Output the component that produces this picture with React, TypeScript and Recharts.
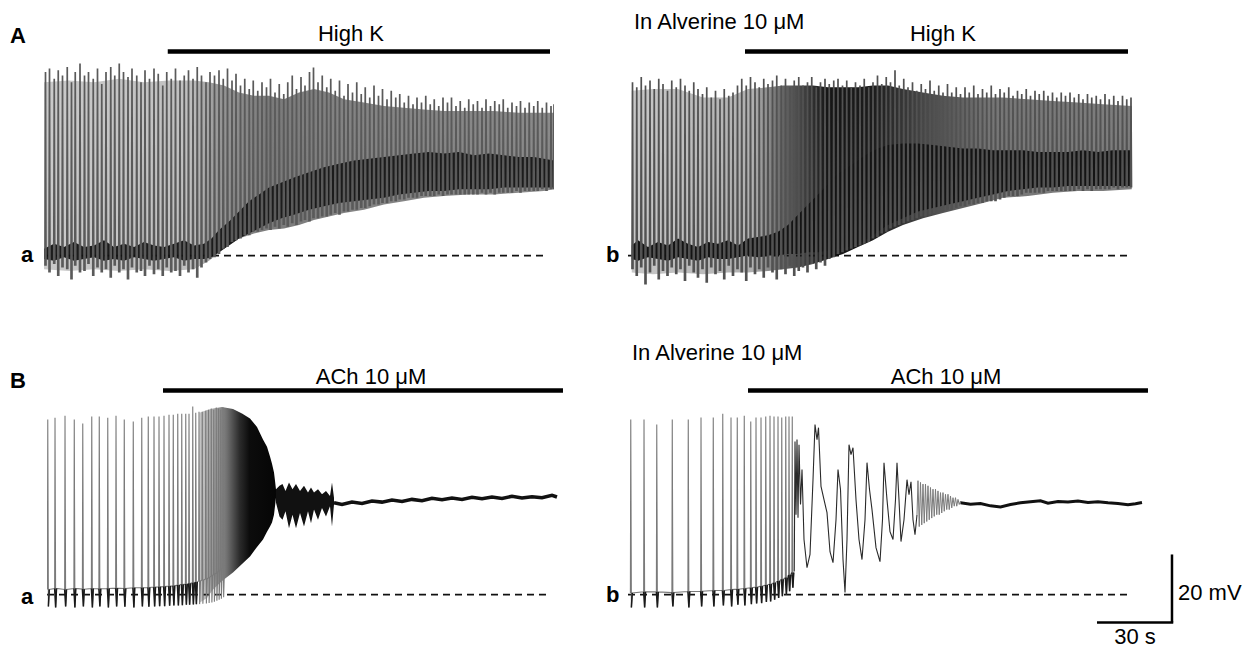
import React from "react";
import { Area, ComposedChart, Line, ReferenceLine, XAxis, YAxis } from "recharts";

// calibration from the scale bar: 30 s = 75 px, 20 mV = 68 px
const PX_PER_S = 2.5;
const PX_PER_MV = 3.4;

// voltages are mV relative to the resting level (dashed line), time in s

// A, control: [t, undershoot, peak]
const aLeftSpikes: [number, number, number][] = [
  [0.4, -3, 54], [2.0, -5, 55], [3.9, -2.5, 52], [5.5, -6, 54.5], [7.2, -3.5, 53], [9.1, -4, 55.5],
  [10.8, -7, 51], [12.3, -3, 54], [14.2, -5, 56.5], [16.0, -4.5, 53], [17.6, -2.5, 54], [19.5, -6, 52],
  [21.2, -3.5, 55], [22.9, -5, 50.5], [24.6, -4, 54], [26.5, -6.5, 55.5], [28.1, -3, 53], [29.9, -5, 56.5],
  [31.6, -4, 54], [33.4, -7, 52.5], [35.0, -3.5, 55], [36.9, -5, 53], [38.6, -4.5, 51], [40.2, -6, 54.5],
  [42.0, -3, 52], [43.8, -5.5, 55], [45.5, -4, 53.5], [47.3, -6, 50], [48.9, -3.5, 54], [50.7, -5, 52],
  [52.4, -4.5, 55], [54.2, -6, 51.5], [55.9, -3, 53], [57.6, -5, 54.5], [59.4, -4, 52], [61.1, -6.5, 55.5],
  [62.8, -3.5, 53], [64.6, -2, 51], [66.2, -1, 54], [68.0, -0.5, 53], [69.8, 0.5, 54.5], [71.5, 2, 52],
  [73.2, 2.5, 55], [75.0, 4, 51.5], [76.6, 4.5, 53.5], [78.4, 5, 50], [80.1, 6, 52], [81.9, 6, 49],
  [83.5, 7, 51.5], [85.3, 7, 48.5], [87.0, 7.5, 51], [88.8, 8, 49.5], [90.4, 7.5, 52], [92.2, 8.5, 48],
  [93.9, 8, 50.5], [95.7, 9, 47.5], [97.3, 8.5, 51], [99.1, 9.5, 53], [100.8, 9, 49], [102.6, 10, 52.5],
  [104.2, 10.5, 50], [106.0, 10, 54], [107.6, 11, 55.3], [109.4, 11, 51], [111.1, 11.5, 53], [112.9, 11.5, 49.5],
  [114.5, 12, 52], [116.3, 12.5, 48.5], [118.0, 12, 51.5], [119.8, 13, 47], [121.4, 13, 50.5], [123.2, 13.5, 48],
  [124.9, 13.5, 51], [126.7, 14, 47.5], [128.3, 14, 49.5], [130.1, 14.5, 46.5], [131.8, 15, 50], [133.6, 15, 47],
  [135.2, 15.5, 49], [137.0, 15.5, 46], [138.7, 16, 48.5], [140.5, 16, 46.5], [142.1, 16.5, 47.5], [143.9, 16.5, 45],
  [145.6, 17, 47], [147.4, 17, 44.5], [149.0, 17, 46.5], [150.8, 17.5, 45], [152.5, 17.5, 47], [154.3, 17.5, 44.5],
  [155.9, 17.5, 46], [157.7, 18, 44], [159.4, 17.5, 46.5], [161.2, 18, 45], [162.8, 18, 46.5], [164.6, 18, 44],
  [166.3, 18, 45.5], [168.1, 18, 43.5], [169.7, 18, 46], [171.5, 18, 44.5], [173.2, 18, 45.5], [175.0, 18.5, 43.5],
  [176.6, 18, 46], [178.4, 18.5, 44], [180.1, 18, 45.5], [181.9, 18.5, 44.5], [183.5, 18.5, 46], [185.3, 18.5, 43.5],
  [187.0, 18.5, 45], [188.8, 19, 44], [190.4, 18.5, 45.5], [192.2, 19, 43.5], [193.9, 19, 45], [195.7, 19, 44],
  [197.3, 19, 45.5], [199.1, 19.5, 43.5], [200.8, 19, 45], [202.6, 19.5, 44], [203.8, 19.5, 44.5],
];

// [t, low, high] of the overlapping spikes and of the dark inter-spike band
const aLeftGray: [number, number, number][] = [
  [0, -4, 51], [10, -4.5, 51.5], [20, -4, 51], [30, -4.5, 52], [40, -4, 51], [50, -4.5, 51.5], [60, -4, 51.5],
  [66, -1.5, 51], [72, 2, 50], [78, 5, 48], [84, 6.5, 47], [90, 7.5, 47], [96, 8, 46], [102, 9, 48],
  [108, 10.5, 49], [114, 11.5, 48], [120, 12.5, 46], [128, 13.5, 45], [136, 15, 44], [144, 16, 43.5],
  [152, 17, 43], [160, 17.5, 42.5], [170, 18, 42.5], [180, 18, 42.5], [190, 18.5, 42], [200, 19, 42], [204, 19.5, 42],
];
const aLeftBand: [number, number, number][] = [
  [0, -1, 2], [4, -1.5, 3.5], [8, -0.5, 2.5], [12, -1.5, 4], [16, -1, 2.5], [20, -0.5, 3], [24, -1.5, 4.5],
  [28, -1, 2.5], [32, -1.5, 3.5], [36, -0.5, 2.5], [40, -1, 4], [44, -1.5, 3], [48, -1, 2.5], [52, -0.5, 3.5],
  [56, -1.5, 4.5], [60, -1, 3], [64, -1, 3.5], [67, -0.5, 5], [70, 1, 7.5], [74, 3, 10], [78, 5, 13],
  [82, 6.5, 16], [86, 8, 18], [90, 9.5, 20], [95, 11, 21.5], [100, 12, 23], [106, 13.5, 24.5], [112, 14.5, 26],
  [118, 15.5, 27], [124, 16, 28], [130, 16.5, 28.5], [136, 17, 29], [142, 18, 29.5], [148, 18.5, 30],
  [154, 19, 30.5], [160, 19, 30], [166, 19.5, 30.5], [172, 19.5, 29.5], [178, 19.5, 30], [184, 20, 29.5],
  [190, 20, 29], [196, 20, 29], [200, 20, 28.5], [204, 20, 28],
];

// A, in alverine: [t, undershoot, peak]
const aRightSpikes: [number, number, number][] = [
  [1.6, -4, 51], [3.3, -6, 49.5], [5.1, -3.5, 52.5], [6.8, -8.5, 50], [8.6, -5, 51.5], [10.3, -3, 49],
  [12.1, -7, 52], [13.8, -4.5, 50.5], [15.6, -6, 48.5], [17.3, -3.5, 51.5], [19.1, -5.5, 49.5], [20.8, -4, 52],
  [22.6, -7.5, 50], [24.3, -3, 48.5], [26.1, -5, 51], [27.8, -6.5, 49], [29.6, -4, 47.5], [31.3, -8, 49.5],
  [33.1, -3.5, 46.5], [34.8, -5.5, 48.5], [36.6, -4.5, 46], [38.3, -7, 49], [40.1, -3, 47], [41.8, -6, 48],
  [43.6, -4, 50], [45.3, -5, 52], [47.1, -7.5, 50], [48.8, -3.5, 52.5], [50.6, -5.5, 51], [52.3, -4, 49.5],
  [54.1, -6.5, 52], [55.8, -3.5, 50.5], [57.6, -5, 51.5], [59.3, -7, 53], [61.1, -4, 50], [62.8, -5.5, 52],
  [64.6, -3, 49.5], [66.3, -6, 51.5], [68.1, -4.5, 52.5], [69.8, -3.5, 50], [71.6, -5, 51], [73.3, -2.5, 52.5],
  [75.1, -4, 49.5], [76.8, -2, 51], [78.6, -3, 52], [80.3, -1, 50.5], [82.1, -0.5, 51.5], [83.8, 0.5, 52],
  [85.6, 1, 50], [87.3, 1.5, 51.5], [89.1, 2, 49.5], [90.8, 2.5, 51], [92.6, 3, 50], [94.3, 3.5, 52],
  [96.1, 4, 49.5], [97.8, 5, 51], [99.6, 5.5, 53], [101.3, 6.5, 50.5], [103.1, 7, 52.5], [104.8, 8, 51],
  [106.6, 8.5, 54.5], [108.3, 9, 50], [110.1, 9.5, 52], [111.8, 10, 49.5], [113.6, 10.5, 51], [115.3, 11, 48.5],
  [117.1, 11.5, 50.5], [118.8, 11.5, 49], [120.6, 12, 51.5], [122.3, 12.5, 48.5], [124.1, 12.5, 50], [125.8, 13, 48],
  [127.6, 13.5, 50.5], [129.3, 13.5, 48], [131.1, 14, 49.5], [132.8, 14.5, 47.5], [134.6, 14.5, 49.5], [136.3, 15, 48],
  [138.1, 15, 50], [139.8, 15.5, 47.5], [141.6, 15.5, 49], [143.3, 16, 48], [145.1, 16, 50], [146.8, 16, 47.5],
  [148.6, 16.5, 49], [150.3, 17, 48], [152.1, 17.5, 49.5], [153.8, 17.5, 47], [155.6, 17.5, 48.5], [157.3, 18, 47.5],
  [159.1, 18.5, 49], [160.8, 18.5, 47], [162.6, 18.5, 48.5], [164.3, 18.5, 47.5], [166.1, 18.5, 48.5], [167.8, 19, 47],
  [169.6, 19, 48], [171.3, 19, 46.5], [173.1, 19, 48], [174.8, 19, 47], [176.6, 19, 48], [178.3, 19, 46.5],
  [180.1, 19.5, 47.5], [181.8, 19, 46], [183.6, 19.5, 47.5], [185.3, 19, 46.5], [187.1, 19.5, 47], [188.8, 19.5, 46],
  [190.6, 19.5, 47.5], [192.3, 19.5, 46], [194.1, 20, 47], [195.8, 19.5, 45.5], [197.6, 20, 47], [199.3, 20, 46],
  [201.0, 20, 46.5],
];
const aRightGray: [number, number, number][] = [
  [1.5, -5, 48.5], [10, -5.5, 49], [20, -5, 49], [30, -5.5, 46.5], [40, -5, 46.5], [48, -5, 49], [56, -4.5, 49.5],
  [62, -4, 50], [68, -3.5, 50], [74, -2.5, 50], [80, -1, 49.5], [86, 0.5, 49.5], [92, 2.5, 49.5],
  [98, 4.5, 50], [104, 7, 50], [110, 9, 49], [118, 11, 48], [126, 12.5, 47], [134, 14, 46.5],
  [142, 15.5, 46.5], [150, 17, 46.5], [160, 17.5, 46], [170, 18.5, 45.5], [180, 19, 45], [190, 19, 44.5], [201.5, 19.5, 44],
];
const aRightBand: [number, number, number][] = [
  [1.5, -1, 3], [4, -1.5, 4.5], [8, -0.5, 2.5], [12, -1, 4], [16, -1.5, 3], [20, -0.5, 5], [24, -1, 3.5],
  [28, -1.5, 2.5], [32, -0.5, 4], [36, -1, 3.5], [40, -1, 4.5], [44, -0.5, 3], [48, 0, 5], [52, -0.5, 5.5],
  [56, 0, 6], [60, 0, 7], [64, 0.5, 9], [68, 0.5, 12], [72, 1, 15], [76, 1, 18], [80, 1.5, 21], [84, 2, 24],
  [88, 2.5, 26], [92, 3.5, 28], [96, 5, 30], [100, 7, 31.5], [104, 9, 32.5], [110, 11, 33], [116, 13, 33],
  [122, 14, 32.5], [128, 15, 32], [134, 16, 31.5], [140, 17, 31.5], [146, 18, 31], [152, 19, 31], [158, 19.5, 31],
  [164, 20, 30.5], [170, 20, 30.5], [176, 20.5, 30.5], [182, 20.5, 31], [188, 20.5, 30.5], [194, 20.5, 31],
  [200, 20.5, 31], [201.5, 20.5, 31],
];

// B, control: [t, foot, peak, trough]
const bLeftSpikes: [number, number, number, number][] = [
  [0.3, 1.5, 51.5, -3.5], [3.2, 1.8, 52, -3.8], [7.2, 1.5, 52.6, -3.5], [10.9, 1.8, 51.5, -3.8],
  [14.3, 1.6, 50.3, -3.5], [17.9, 1.8, 52.4, -3.8], [20.9, 1.7, 52.4, -3.5], [24.3, 1.8, 52, -3.8],
  [27.6, 1.9, 52.6, -3.5], [30.9, 1.8, 51.5, -3.6], [34.5, 2, 50.9, -3.8], [37.9, 2, 52, -3.5],
  [40.5, 2.1, 52.4, -3.6], [42.8, 2.2, 52.4, -3.5], [44.8, 2.3, 52.4, -3.4], [46.8, 2.4, 52.6, -3.4],
  [48.8, 2.5, 52.9, -3.3], [50.5, 2.6, 52.9, -3.2], [52.3, 2.8, 53.2, -3.2], [53.9, 3, 53.2, -3.1],
  [55.5, 3.1, 53.2, -3], [56.8, 3.3, 53.2, -3], [58.3, 3.5, 55.3, -2.9], [59.5, 3.7, 53.5, -2.8],
  [60.8, 4, 53.8, -2.8], [62.1, 4.3, 53.8, -2.7], [63.5, 4.6, 54.1, -2.6], [64.6, 5, 54.4, -2.5],
  [65.7, 5.5, 54.7, -2.3], [66.7, 6, 54.4, -2.1], [67.7, 6.5, 55, -1.8], [68.6, 7, 54.7, -1.5],
  [69.5, 7.5, 54.4, -1.2], [70.4, 8, 55, -0.8],
];
// envelope of the fused firing before the depolarisation block: [t, low, high]
const bLeftBurst: [number, number, number][] = [
  [61, -2.4, 53.5], [64, -1, 54.3], [66.4, 1.5, 54.7], [70, 4, 55.2], [74.4, 6.5, 54.6], [78, 9, 53.3],
  [81.2, 11.2, 51.8], [84, 14, 49.3], [86.4, 16.2, 45.6], [88, 18.5, 43.5], [89.2, 20, 40.6], [90, 21.2, 38.5],
  [90.8, 23.5, 35.9], [91.2, 26, 33.5], [91.6, 28.5, 30.9],
];
const bLeftOsc: [number, number, number][] = [
  [91.6, 27, 31], [93, 23, 32], [94.2, 22, 32.5], [95.4, 24.5, 30.5], [96.8, 19.5, 33], [98.2, 23.5, 31],
  [99.6, 19.5, 32.5], [101.2, 24, 30.5], [102.8, 20, 32], [104.4, 24.5, 30], [105.6, 21, 31.5], [106.8, 25, 30],
  [108.4, 22, 31], [110, 25.5, 29.5], [111.6, 23, 30.5], [113.2, 26, 29], [114, 20, 33], [114.8, 26.5, 28.5],
];
const bLeftFlat: [number, number][] = [
  [114.8, 27], [118, 26.5], [122, 27.2], [126, 26.8], [130, 27.5], [134, 27.2], [138, 27.8], [142, 27.4],
  [146, 28], [150, 27.6], [154, 28.3], [158, 27.9], [162, 28.4], [166, 28], [170, 28.6], [174, 28.2],
  [178, 28.7], [182, 28.3], [186, 28.9], [190, 28.4], [194, 28.8], [198, 28.5], [202, 29.2], [204, 28.7],
];

// B, in alverine
const bRightSpikes: [number, number, number, number][] = [
  [1.1, 0.5, 51.5, -3.8], [6.4, 0.8, 51.5, -3.8], [11.5, 0.8, 50, -3.8], [17.7, 0.6, 51.5, -3.5],
  [24.1, 0.9, 51.5, -3.8], [29.2, 1, 52.1, -3.5], [34.1, 1.2, 52.1, -3.5], [37.9, 1.2, 53.2, -3.2],
  [41.2, 1.5, 52.1, -3.5], [43.7, 1.6, 52.1, -3], [46.5, 1.8, 52.6, -3.2], [49.1, 2, 50.9, -2.8],
  [51.2, 2.2, 52.1, -2.6], [53.2, 2.5, 52.1, -2.5], [55.1, 2.8, 52.4, -2.2], [56.8, 3.1, 52.6, -2],
  [58.4, 3.5, 52.4, -1.5], [60, 4, 52.4, -1], [61.5, 4.5, 52.1, -0.5], [63.1, 5, 52.4, 0],
  [64.4, 5.8, 52.4, 1], [65.7, 6.5, 52.4, 2],
];
const bRightOsc: [number, number][] = [
  [66.5, 6.8], [66.8, 45], [67.2, 23.5], [67.6, 45.6], [68, 22.6], [68.4, 44.1], [69, 26.5], [69.6, 36.8],
  [70.4, 16.2], [71.6, 7.9], [72.8, 11.8], [74, 33.8], [74.8, 50], [75.6, 45.6], [76.2, 49.1], [77.2, 31.8],
  [78.4, 27.9], [79.6, 24.1], [80.8, 12.6], [82, 9.4], [83.2, 22], [84, 36.8], [85, 30.9], [86, 10.3],
  [86.8, 0.6], [87.6, 16.2], [88.4, 44.1], [89.2, 41.2], [90, 43.2], [91.2, 27.9], [92.4, 16.2], [93.6, 10.3],
  [94.8, 22], [95.6, 38.8], [96.6, 30.9], [97.6, 25], [99.2, 13.8], [100.8, 9.7], [101.8, 22], [102.4, 38.8],
  [103.6, 27.9], [104.8, 18.5], [106, 16.2], [107, 27.9], [107.6, 38.8], [108.4, 27.9], [109.2, 15.6],
  [110.4, 22], [111.6, 33.8], [112.4, 29.4], [113.2, 33.2], [114, 22], [114.8, 17.6], [115.6, 23.5],
];
const bRightFade: [number, number][] = [
  [115.6, 23.5], [116, 33.5], [116.5, 20], [117, 33], [117.5, 20.5], [118, 32.5], [118.5, 21], [119, 32.5],
  [119.5, 21.5], [120, 32], [120.5, 22], [121, 31.5], [121.5, 22.5], [122, 31], [122.5, 23], [123, 31],
  [123.5, 23.5], [124, 30.5], [124.5, 23.5], [125, 30], [125.5, 24], [126, 30], [126.5, 24.5], [127, 29.5],
  [127.5, 25], [128, 29.5], [128.5, 25], [129, 29], [129.5, 25.5], [130, 28.5], [130.5, 26], [131, 28.5],
  [131.5, 26], [132, 28], [132.5, 26.5], [133, 27.5],
];
const bRightFlat: [number, number][] = [
  [133, 27], [137, 26.6], [141, 26.8], [145, 26.1], [149, 25.8], [153, 26.5], [157, 27], [161, 27.3],
  [165, 27.6], [168, 26.9], [172, 27.4], [176, 27.2], [180, 27.5], [184, 27.1], [188, 27.3], [192, 27],
  [196, 26.8], [200, 26.4], [203, 26.7], [205.6, 27.1],
];

// drug application [start, end] in s
const aLeftDrug = [49.5, 202.4];
const aRightDrug = [46.8, 200];
const bLeftDrug = [46.4, 206.4];
const bRightDrug = [48, 208];
const DRUG_LEVEL = 60;

// grey level of the overlapping spikes along each trace: [t, colour]
const aLeftTone: [number, string][] = [[0, "#cacaca"], [58, "#c0c0c0"], [70, "#979797"], [90, "#7a7a7a"], [120, "#838383"], [204, "#8a8a8a"]];
const aRightTone: [number, string][] = [[1.5, "#c8c8c8"], [50, "#b0b0b0"], [62, "#666"], [80, "#151515"], [98, "#1c1c1c"], [120, "#4a4a4a"], [145, "#767676"], [201.5, "#7e7e7e"]];
const bLeftTone: [number, string][] = [[61, "#c6c6c6"], [67, "#a4a4a4"], [72, "#707070"], [77, "#2c2c2c"], [81, "#0c0c0c"], [91.6, "#050505"]];

function spikeSegments(spikes: [number, number, number][]) {
  const out: { t: number; v: number | null }[] = [];
  for (const [t, lo, hi] of spikes) {
    out.push({ t, v: lo }, { t: t + 0.2, v: hi }, { t: t + 0.4, v: lo }, { t: t + 0.41, v: null });
  }
  return out;
}

function spikeTrace(spikes: [number, number, number, number][]) {
  const out: { t: number; v: number }[] = [];
  for (const [t, foot, peak, trough] of spikes) {
    out.push({ t: t - 0.15, v: foot }, { t, v: peak }, { t: t + 0.25, v: trough }, { t: t + 0.6, v: foot });
  }
  return out;
}

// only the slow part between spikes (drawn darker, as in the recording)
function baseTrace(spikes: [number, number, number, number][]) {
  const out: { t: number; v: number | null }[] = [];
  spikes.forEach(([t, foot, , trough], i) => {
    out.push({ t: t + 0.25, v: trough }, { t: t + 0.6, v: foot });
    const next = spikes[i + 1];
    if (next) out.push({ t: next[0] - 0.15, v: next[1] });
    out.push({ t: t + 0.61, v: null });
  });
  return out.sort((a, b) => a.t - b.t);
}

const band = (rows: [number, number, number][]) => rows.map(([t, lo, hi]) => ({ t, r: [lo, hi] }));
const points = (rows: [number, number][]) => rows.map(([t, v]) => ({ t, v }));

function Panel({ left, zeroY, x, y, children }: {
  left: number; zeroY: number; x: [number, number]; y: [number, number]; children: React.ReactNode;
}) {
  const width = (x[1] - x[0]) * PX_PER_S;
  const height = (y[1] - y[0]) * PX_PER_MV;
  return (
    <div style={{ position: "absolute", left, top: zeroY - y[1] * PX_PER_MV, width, height }}>
      <ComposedChart width={width} height={height} margin={{ top: 0, right: 0, bottom: 0, left: 0 }}>
        <XAxis type="number" dataKey="t" domain={x} hide allowDataOverflow />
        <YAxis type="number" domain={y} hide allowDataOverflow />
        {children}
      </ComposedChart>
    </div>
  );
}

function toneGradient(id: string, tone: [number, string][]) {
  const t0 = tone[0][0];
  const span = tone[tone.length - 1][0] - t0;
  return (
    <defs>
      <linearGradient id={id} x1="0" y1="0" x2="1" y2="0">
        {tone.map(([t, c]) => (
          <stop key={t} offset={(t - t0) / span} stopColor={c} />
        ))}
      </linearGradient>
    </defs>
  );
}

function Shade({ rows, color }: { rows: [number, number, number][]; color: string }) {
  return (
    <Area data={band(rows)} dataKey="r" type="linear" fill={color} fillOpacity={1} stroke="none"
      dot={false} activeDot={false} isAnimationActive={false} />
  );
}

function Trace({ data, color, width }: { data: { t: number; v: number | null }[]; color: string; width: number }) {
  return (
    <Line data={data} dataKey="v" type="linear" stroke={color} strokeWidth={width} dot={false}
      activeDot={false} connectNulls={false} isAnimationActive={false} />
  );
}

const dashed = (end: number) => (
  <ReferenceLine segment={[{ x: 0, y: 0 }, { x: end, y: 0 }]} stroke="#111" strokeWidth={1.6} strokeDasharray="7 5" />
);
const drugBar = (d: number[]) => (
  <ReferenceLine segment={[{ x: d[0], y: DRUG_LEVEL }, { x: d[1], y: DRUG_LEVEL }]} stroke="#000" strokeWidth={4.5} />
);

export default function App() {
  return (
    <div style={{ position: "absolute", left: 0, top: 0, width: 1244, height: 649, background: "#fff", overflow: "hidden" }}>
      <Panel left={44} zeroY={256} x={[0, 204]} y={[-13, 64]}>
        {toneGradient("toneAL", aLeftTone)}
        {dashed(201.6)}
        {drugBar(aLeftDrug)}
        <Shade rows={aLeftGray} color="url(#toneAL)" />
        <Trace data={spikeSegments(aLeftSpikes)} color="#5a5a5a" width={1.7} />
        <Shade rows={aLeftBand} color="#1c1c1c" />
      </Panel>
      <Panel left={628} zeroY={256} x={[0, 202]} y={[-13, 64]}>
        {toneGradient("toneAR", aRightTone)}
        {dashed(200.8)}
        {drugBar(aRightDrug)}
        <Shade rows={aRightGray} color="url(#toneAR)" />
        <Trace data={spikeSegments(aRightSpikes)} color="#525252" width={1.7} />
        <Shade rows={aRightBand} color="#141414" />
      </Panel>
      <Panel left={47} zeroY={595} x={[0, 207]} y={[-9, 64]}>
        {toneGradient("toneBL", bLeftTone)}
        {dashed(200.4)}
        {drugBar(bLeftDrug)}
        <Shade rows={bLeftBurst} color="url(#toneBL)" />
        <Trace data={spikeTrace(bLeftSpikes)} color="#7a7a7a" width={1.1} />
        <Trace data={baseTrace(bLeftSpikes.filter((s) => s[0] < 60))} color="#1a1a1a" width={1.5} />
        <Shade rows={bLeftOsc} color="#111" />
        <Trace data={points(bLeftFlat)} color="#111" width={3.5} />
      </Panel>
      <Panel left={628} zeroY={595} x={[0, 219]} y={[-9, 64]}>
        {dashed(200.8)}
        {drugBar(bRightDrug)}
        <Trace data={spikeTrace(bRightSpikes)} color="#7a7a7a" width={1.1} />
        <Trace data={baseTrace(bRightSpikes)} color="#1a1a1a" width={1.5} />
        <Trace data={points(bRightOsc)} color="#2a2a2a" width={1.1} />
        <Trace data={points(bRightFade)} color="#7a7a7a" width={1} />
        <Trace data={points(bRightFlat)} color="#111" width={3} />
        {/* scale bar: 30 s by 20 mV */}
        <ReferenceLine segment={[{ x: 217.6, y: -8.2 }, { x: 217.6, y: 11.8 }]} stroke="#000" strokeWidth={2.5} />
        <ReferenceLine segment={[{ x: 187.6, y: -8.2 }, { x: 218.1, y: -8.2 }]} stroke="#000" strokeWidth={2.5} />
      </Panel>
      <svg width={1244} height={649} style={{ position: "absolute", left: 0, top: 0 }}
        fontFamily="'Liberation Sans', Arial, sans-serif" fontSize={22} fill="#000">
        <text x={10} y={43} fontWeight="bold">A</text>
        <text x={10} y={387.5} fontWeight="bold">B</text>
        <text x={21} y={262} fontWeight="bold">a</text>
        <text x={606} y={262} fontWeight="bold">b</text>
        <text x={21} y={603.5} fontWeight="bold">a</text>
        <text x={606} y={602} fontWeight="bold">b</text>
        <text x={351} y={40.5} textAnchor="middle">High K</text>
        <text x={943} y={40.5} textAnchor="middle">High K</text>
        <text x={634} y={28.5}>In Alverine 10 μM</text>
        <text x={632} y={359.5}>In Alverine 10 μM</text>
        <text x={371} y={384} textAnchor="middle">ACh 10 μM</text>
        <text x={946} y={384} textAnchor="middle">ACh 10 μM</text>
        <text x={1178} y={599.5}>20 mV</text>
        <text x={1135} y={644} textAnchor="middle">30 s</text>
      </svg>
    </div>
  );
}
